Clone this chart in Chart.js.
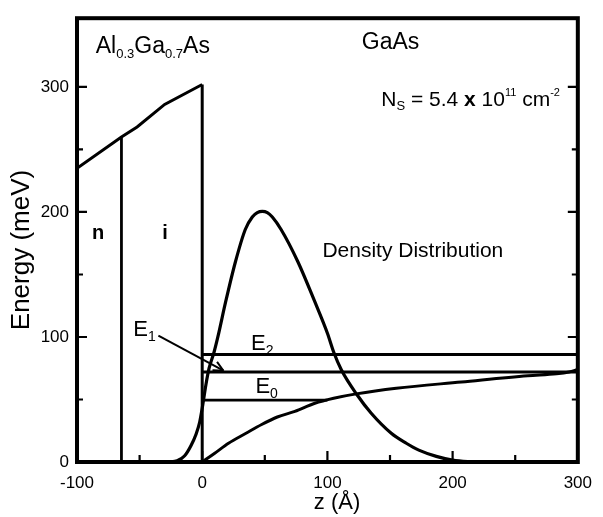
<!DOCTYPE html>
<html>
<head>
<meta charset="utf-8">
<script src="https://cdn.jsdelivr.net/npm/chart.js@4.4.0/dist/chart.umd.min.js"></script>
<style>
  html, body { margin: 0; padding: 0; background: #fff; }
</style>
</head>
<body>
<canvas id="myChart" width="603" height="517"></canvas>
<script>
// conduction band in the AlGaAs barrier
const barrierZ = [-100, -64.5, -52, -30, 0];
const barrierE = [235, 260, 268, 286, 302];
// n / i boundary and the heterointerface
const nWallZ = [-64.5, -64.5];
const nWallE = [0, 260];
const interfaceZ = [0, 0];
const interfaceE = [0, 302];
// electron density distribution
const densityZ = [-27, -20, -14, -9, -5, -2, 0.5, 3, 5.5, 9.5, 12.5, 18.7, 26.5, 34.4, 40, 44, 48, 52, 56, 63, 76.5, 89.6, 100, 105, 111, 123.5, 135, 151, 163, 173, 187, 200, 212, 222];
const densityE = [0, 1, 5, 13, 22, 32, 46, 62, 75, 88, 100, 128, 160, 186, 196, 199.5, 200.5, 199.5, 196, 186, 160, 129, 103, 88, 74, 54, 39, 23, 15, 9.5, 4.5, 1.5, 0.3, 0];
// GaAs conduction band (triangular well)
const wellZ = [0, 10, 21, 35, 47.5, 60, 74, 90, 105, 123, 155, 207, 260, 283, 293, 300];
const wellE = [0, 7, 15, 23, 30, 36, 40.5, 47, 51, 54.5, 59, 64, 69, 70.5, 72, 74];
// subband levels
const levelNames = ["E0", "E1", "E2"];
const levelE = [49.5, 72, 86];
const levelFrom = [0, 0, 0];
const levelTo = [100, 300, 300];
// arrow pointing at E1
const arrowZ = [-35, 17];
const arrowE = [101, 73];
// axis ticks
const xTicks = [-100, 0, 100, 200, 300];
const xMinor = [-50, 50, 150, 250];
const yTicks = [0, 100, 200, 300];
const yMinor = [50, 150, 250];

const FONT = '"Liberation Sans", Arial, Helvetica, sans-serif';
const ctx = document.getElementById("myChart");

function pts(xs, ys) {
  return xs.map((x, i) => ({ x: x, y: ys[i] }));
}

function line(xs, ys, width, smooth) {
  return {
    data: pts(xs, ys),
    showLine: true,
    borderColor: "#000",
    borderWidth: width,
    pointRadius: 0,
    fill: false,
    cubicInterpolationMode: smooth ? "monotone" : "default",
    tension: 0,
  };
}

const datasets = [
  line(barrierZ, barrierE, 3),
  line(nWallZ, nWallE, 2.8),
  line(interfaceZ, interfaceE, 3),
  line(densityZ, densityE, 3.2, true),
  line(wellZ, wellE, 3, true),
  line(arrowZ, arrowE, 2),
];
levelE.forEach((e, i) => {
  datasets.push(line([levelFrom[i], levelTo[i]], [e, e], 2.8));
});

// text pieces: [text, size, dy, bold]
const labels = [
  { z: -85, e: 327, parts: [["Al", 23], ["0.3", 13, 5], ["Ga", 23], ["0.7", 13, 5], ["As", 23]] },
  { z: 127.5, e: 330, parts: [["GaAs", 23]] },
  { z: 143, e: 284.5, parts: [["N", 21], ["S", 13, 4], [" = 5.4 ", 21], ["x", 21, 0, true], [" 10", 21], ["11", 11, -10], [" cm", 21], ["-2", 11, -10]] },
  { z: -88, e: 178.5, parts: [["n", 20, 0, true]] },
  { z: -32, e: 178.5, parts: [["i", 20, 0, true]] },
  { z: 96, e: 164, parts: [["Density Distribution", 21]] },
  { z: -55, e: 100.5, parts: [["E", 22], ["1", 14, 5]] },
  { z: 39, e: 89.6, parts: [["E", 22], ["2", 14, 5]] },
  { z: 42.5, e: 55, parts: [["E", 22], ["0", 14, 5]] },
];

function drawRich(c, x, y, parts) {
  let cx = x;
  parts.forEach((p) => {
    c.font = (p[3] ? "bold " : "") + p[1] + "px " + FONT;
    c.fillText(p[0], cx, y + (p[2] || 0));
    cx += c.measureText(p[0]).width;
  });
}

const decor = {
  id: "decor",
  beforeDraw(chart) {
    const c = chart.ctx;
    c.save();
    c.fillStyle = "#fff";
    c.fillRect(0, 0, chart.width, chart.height);
    c.restore();
  },
  afterDraw(chart) {
    const c = chart.ctx;
    const xs = chart.scales.x;
    const ys = chart.scales.y;
    const a = chart.chartArea;
    c.save();
    c.strokeStyle = "#000";
    c.fillStyle = "#000";

    // frame
    c.lineWidth = 4;
    c.strokeRect(a.left, a.top, a.right - a.left, a.bottom - a.top);

    // inward ticks
    c.lineWidth = 2.2;
    c.beginPath();
    xTicks.concat(xMinor).forEach((v) => {
      const len = xTicks.includes(v) ? 11 : 7;
      const px = xs.getPixelForValue(v);
      c.moveTo(px, a.bottom);
      c.lineTo(px, a.bottom - len);
    });
    yTicks.concat(yMinor).forEach((v) => {
      const len = yTicks.includes(v) ? 10 : 6;
      const py = ys.getPixelForValue(v);
      c.moveTo(a.left, py);
      c.lineTo(a.left + len, py);
      c.moveTo(a.right, py);
      c.lineTo(a.right - len, py);
    });
    c.stroke();

    // arrow head
    const x0 = xs.getPixelForValue(arrowZ[0]), y0 = ys.getPixelForValue(arrowE[0]);
    const x1 = xs.getPixelForValue(arrowZ[1]), y1 = ys.getPixelForValue(arrowE[1]);
    const ang = Math.atan2(y1 - y0, x1 - x0);
    c.lineWidth = 2;
    c.beginPath();
    [-0.45, 0.45].forEach((d) => {
      c.moveTo(x1, y1);
      c.lineTo(x1 - 11 * Math.cos(ang + d), y1 - 11 * Math.sin(ang + d));
    });
    c.stroke();

    // annotations
    c.textBaseline = "alphabetic";
    c.textAlign = "left";
    labels.forEach((l) => {
      drawRich(c, xs.getPixelForValue(l.z), ys.getPixelForValue(l.e), l.parts);
    });

    // axis titles
    c.font = "26px " + FONT;
    c.textAlign = "center";
    c.textBaseline = "middle";
    c.save();
    c.translate(22, 250);
    c.rotate(-Math.PI / 2);
    c.fillText("Energy (meV)", 0, 0);
    c.restore();
    c.font = "22px " + FONT;
    c.fillText("z (Å)", 337, 503);
    c.restore();
  },
};

new Chart(ctx, {
  type: "scatter",
  data: { datasets: datasets },
  options: {
    responsive: false,
    animation: false,
    layout: { padding: { top: 7, right: 19, left: 0, bottom: 0 } },
    plugins: { legend: { display: false }, tooltip: { enabled: false } },
    scales: {
      x: {
        type: "linear",
        min: -100,
        max: 300,
        grid: { display: false, drawTicks: false },
        border: { display: false },
        afterBuildTicks: (s) => { s.ticks = xTicks.map((v) => ({ value: v })); },
        afterFit: (s) => { s.height = 55; },
        ticks: { color: "#000", padding: 11, font: { size: 17, family: FONT } },
      },
      y: {
        type: "linear",
        min: 0,
        max: 355,
        grid: { display: false, drawTicks: false },
        border: { display: false },
        afterBuildTicks: (s) => { s.ticks = yTicks.map((v) => ({ value: v })); },
        afterFit: (s) => { s.width = 77; },
        ticks: { color: "#000", padding: 8, font: { size: 17, family: FONT } },
      },
    },
  },
  plugins: [decor],
});
</script>
</body>
</html>
